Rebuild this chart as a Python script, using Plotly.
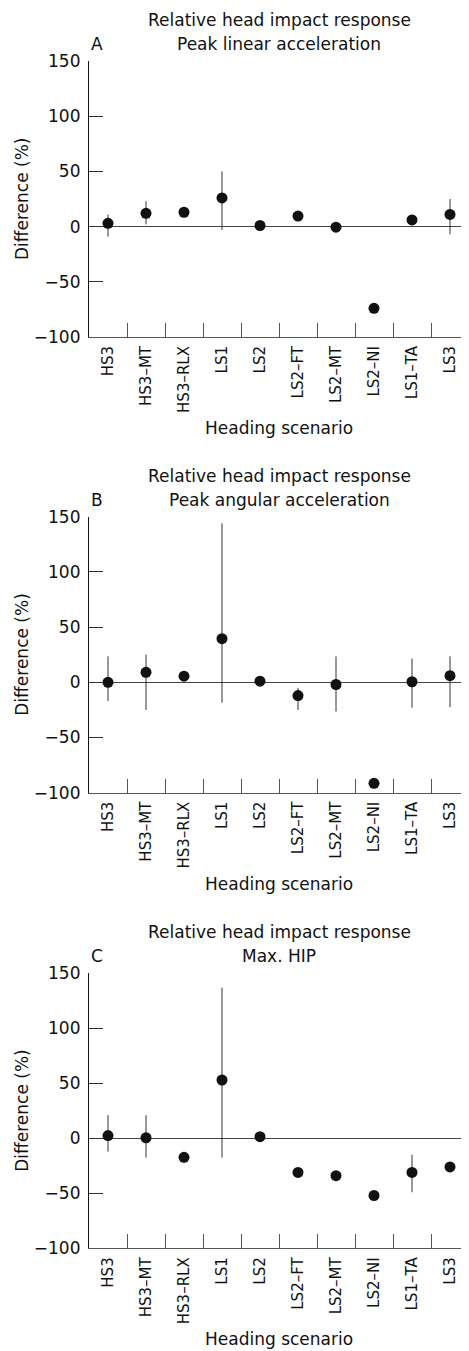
import plotly.graph_objects as go

categories = ["HS3", "HS3–MT", "HS3–RLX", "LS1", "LS2", "LS2–FT", "LS2–MT", "LS2–NI", "LS1–TA", "LS3"]

# Panel A: peak linear acceleration
lin_val = [3, 12, 13, 26, 1, 9.5, -0.5, -74, 6, 11]
lin_up = [8, 11, 0, 24, 0, 0, 0, 0, 0, 14]
lin_dn = [12, 10, 0, 29, 0, 0, 0, 0, 0, 18]

# Panel B: peak angular acceleration
ang_val = [0, 9, 5.5, 39.5, 1, -12, -2, -91.5, 0.5, 6]
ang_up = [23.5, 16, 0, 104.5, 0, 7, 25.5, 0, 21, 17.5]
ang_dn = [17, 34, 0, 58, 0, 13, 24.5, 0, 23.5, 28.5]

# Panel C: max HIP
hip_val = [2.5, 0.5, -17.3, 53, 1.5, -31, -34, -52, -31, -26]
hip_up = [18.5, 20.5, 0, 84, 0, 0, 0, 0, 16, 0]
hip_dn = [14.5, 18, 0, 70.5, 0, 0, 0, 0, 18, 0]

panels = [
    ("A", "Peak linear acceleration", lin_val, lin_up, lin_dn),
    ("B", "Peak angular acceleration", ang_val, ang_up, ang_dn),
    ("C", "Max. HIP", hip_val, hip_up, hip_dn),
]

# page body has an 8px margin; the figure is sized to fill the rest of the window
OFF = 8
WIN_W, WIN_H = 469, 1351
W, H = WIN_W - OFF, WIN_H - OFF
L = 89 - OFF
FONT = "DejaVu Sans"
FS = 17
XFS = 15
# window-pixel geometry of each plot area (top, bottom)
tops = [61, 516.7, 973.3]
bots = [337, 792.7, 1248.3]

def py(px):
    return 1 - (px - OFF) / H

def pxx(px):
    return (px - OFF - L) / (W - L)

fig = go.Figure()
layout = dict(
    width=W, height=H,
    margin=dict(l=L, r=0, t=0, b=0),
    paper_bgcolor="white", plot_bgcolor="white",
    showlegend=False,
    font=dict(family=FONT, size=FS, color="#111"),
    annotations=[],
)

for i, (lab, sub, vals, up, dn) in enumerate(panels):
    n = "" if i == 0 else str(i + 1)
    fig.add_trace(go.Scatter(
        x=categories, y=vals, mode="markers",
        xaxis="x" + n, yaxis="y" + n,
        marker=dict(size=11, color="#111"),
        error_y=dict(type="data", symmetric=False, array=up, arrayminus=dn,
                     width=0, thickness=1, color="#333"),
        cliponaxis=False,
    ))
    layout["xaxis" + n] = dict(
        domain=[0, 1], anchor="y" + n,
        type="category", categoryorder="array", categoryarray=categories,
        range=[-0.5, 9.5], tickson="boundaries",
        ticks="inside", ticklen=14, tickwidth=1, tickcolor="#555",
        showline=True, linecolor="#555", linewidth=1,
        showgrid=False, zeroline=False, tickangle=-90,
        tickfont=dict(family=FONT, size=XFS, color="#111"),
        ticklabelstandoff=2,
        automargin=False, fixedrange=True,
    )
    layout["yaxis" + n] = dict(
        domain=[py(bots[i]), py(tops[i])], anchor="x" + n,
        range=[-100, 150], tickvals=[-100, -50, 0, 50, 100, 150],
        ticks="inside", ticklen=14, tickwidth=1, tickcolor="#333",
        showline=True, linecolor="#111", linewidth=1.2,
        showgrid=False, zeroline=True, zerolinecolor="#444", zerolinewidth=1,
        tickfont=dict(family=FONT, size=FS, color="#111"),
        ticklabelstandoff=4,
        automargin=False, fixedrange=True,
    )
    t = tops[i]
    b = bots[i]
    layout["annotations"] += [
        dict(text="Relative head impact response", x=pxx(279), y=py(t - 41),
             xref="paper", yref="paper", xanchor="center", yanchor="middle",
             showarrow=False, font=dict(family=FONT, size=FS, color="#111")),
        dict(text=sub, x=pxx(279), y=py(t - 17),
             xref="paper", yref="paper", xanchor="center", yanchor="middle",
             showarrow=False, font=dict(family=FONT, size=FS, color="#111")),
        dict(text=lab, x=pxx(97), y=py(t - 17),
             xref="paper", yref="paper", xanchor="center", yanchor="middle",
             showarrow=False, font=dict(family=FONT, size=FS, color="#111")),
        dict(text="Difference (%)", x=pxx(22), y=py((t + b) / 2),
             xref="paper", yref="paper", xanchor="center", yanchor="middle",
             textangle=-90, showarrow=False,
             font=dict(family=FONT, size=FS, color="#111")),
        dict(text="Heading scenario", x=pxx(279), y=py(b + 91),
             xref="paper", yref="paper", xanchor="center", yanchor="middle",
             showarrow=False, font=dict(family=FONT, size=FS, color="#111")),
    ]

fig.update_layout(**layout)
fig.write_html("out.html")
